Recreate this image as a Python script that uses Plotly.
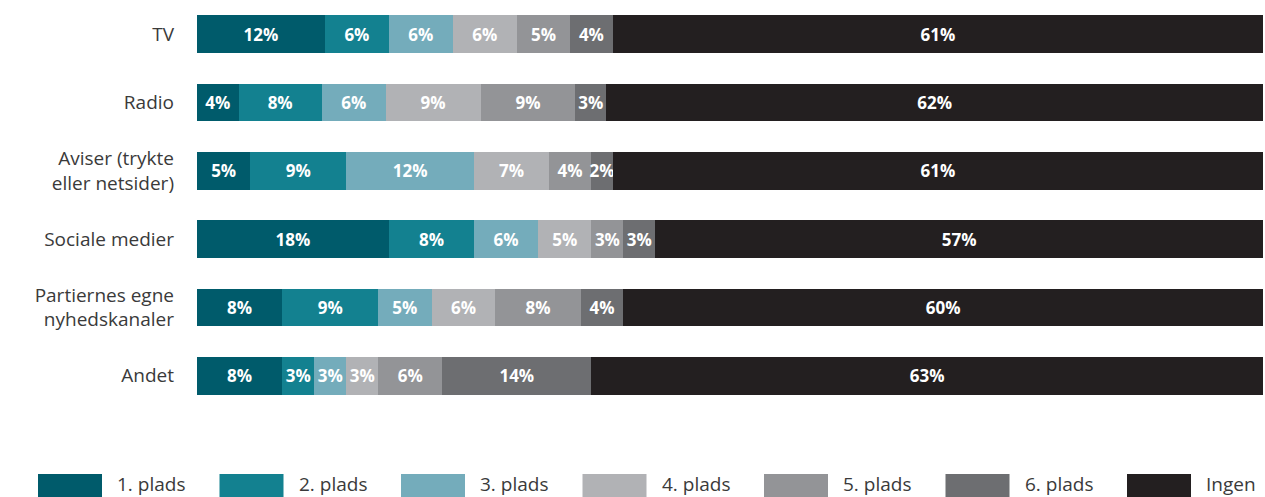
import plotly.graph_objects as go

categories = ["TV", "Radio", "Aviser (trykte<br>eller netsider)", "Sociale medier",
              "Partiernes egne<br>nyhedskanaler", "Andet"]
series_names = ["1. plads", "2. plads", "3. plads", "4. plads", "5. plads", "6. plads", "Ingen"]

plads1 = [12, 3.9, 5, 18, 8, 8]
plads2 = [6, 7.8, 9, 8, 9, 3]
plads3 = [6, 6.0, 12, 6, 5, 3]
plads4 = [6, 8.9, 7, 5, 6, 3]
plads5 = [5, 8.9, 4, 3, 8, 6]
plads6 = [4, 2.9, 2, 3, 4, 14]
ingen = [61, 61.6, 61, 57, 60, 63]

series_values = [plads1, plads2, plads3, plads4, plads5, plads6, ingen]
colors = ["#005b6b", "#138190", "#74acbb", "#b1b2b5", "#939497", "#6d6e71", "#231f20"]

FONT = "Open Sans"

fig = go.Figure()
for name, vals, col in zip(series_names, series_values, colors):
    fig.add_trace(go.Bar(
        y=categories, x=vals, name=name, orientation="h",
        marker=dict(color=col, line=dict(width=0)),
        texttemplate="%{x:.0f}%", textposition="inside", insidetextanchor="middle",
        textangle=0, cliponaxis=False,
        textfont=dict(color="white", size=17, family=FONT, weight="bold"),
        constraintext="none", showlegend=False,
    ))

W, H = 1265, 497
ml, mr, mt, mb = 197, 2, 0, 87
pw = W - ml - mr
ph = H - mt - mb

def px2paper_x(px):
    return (px - ml) / pw

def px2paper_y(py):
    return (H - mb - py) / ph

shapes = []
annotations = []
for i, (name, col) in enumerate(zip(series_names, colors)):
    x0 = 38 + i * 181.5
    shapes.append(dict(type="rect", xref="paper", yref="paper",
                       x0=px2paper_x(x0), x1=px2paper_x(x0 + 64),
                       y0=px2paper_y(497), y1=px2paper_y(474),
                       fillcolor=col, line=dict(width=0), layer="above"))
    annotations.append(dict(xref="paper", yref="paper", x=px2paper_x(x0 + 77), y=px2paper_y(484),
                            text=name, showarrow=False, xanchor="left", yanchor="middle",
                            font=dict(family=FONT, size=19, color="#3a3a3a")))

fig.update_layout(
    width=W, height=H,
    margin=dict(l=ml, r=mr, t=mt, b=mb),
    barmode="stack", bargap=0.445,
    plot_bgcolor="white", paper_bgcolor="white",
    uniformtext=dict(minsize=17, mode="show"),
    xaxis=dict(range=[0, 100], visible=False, fixedrange=True),
    yaxis=dict(autorange="reversed", showgrid=False, zeroline=False, showline=False,
               ticks="", ticklabelstandoff=22,
               tickfont=dict(family=FONT, size=19, color="#3a3a3a")),
    shapes=shapes, annotations=annotations,
)

fig.write_html("out.html")
